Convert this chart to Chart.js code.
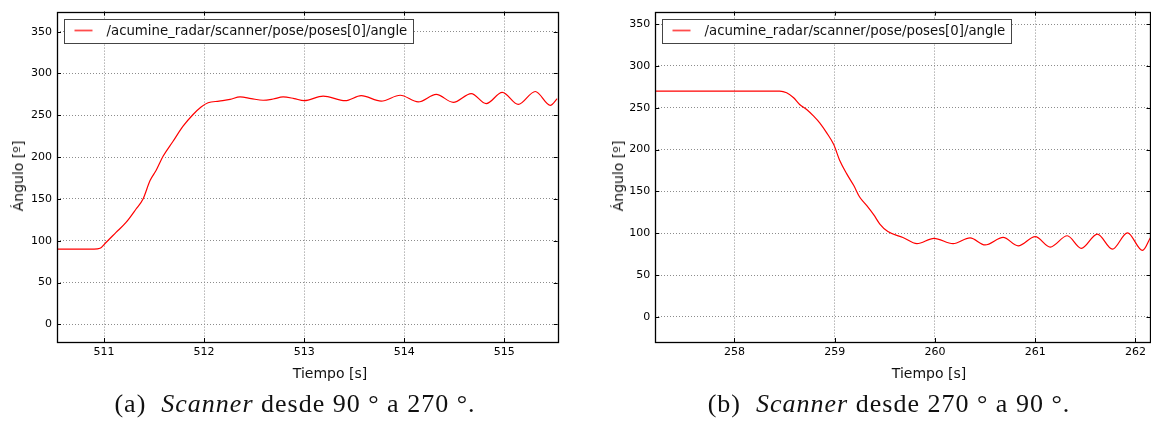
<!DOCTYPE html>
<html>
<head>
<meta charset="utf-8">
<script src="https://cdn.jsdelivr.net/npm/chart.js@4/dist/chart.umd.min.js"></script>
<style>
  html, body { margin: 0; padding: 0; background: #fff; }
  body { width: 1151px; height: 425px; position: relative; overflow: hidden; }
  canvas { position: absolute; top: 0; }
  #cA { left: 0; }
  #cB { left: 590px; }
  .lbl { position: absolute; font-family: "DejaVu Sans", sans-serif; font-size: 14px; color: #111; white-space: nowrap; transform: translate(-50%, -50%); }
  .rot { transform: translate(-50%, -50%) rotate(-90deg); }
  .cap { position: absolute; font-family: "Liberation Serif", serif; font-size: 26px; letter-spacing: 1px; color: #111; white-space: nowrap; transform: translate(-50%, -50%); }
  .cap i { font-style: italic; }
</style>
</head>
<body>
<canvas id="cA" width="575" height="425"></canvas>
<canvas id="cB" width="561" height="425"></canvas>

<div class="lbl rot" style="left:18px; top:176px;">Ángulo [º]</div>
<div class="lbl rot" style="left:618px; top:176px;">Ángulo [º]</div>
<div class="lbl" style="left:330px; top:373px;">Tiempo [s]</div>
<div class="lbl" style="left:929px; top:373px;">Tiempo [s]</div>
<div class="cap" style="left:295px; top:404px;">(a)&nbsp; <i>Scanner</i> desde 90 ° a 270 °.</div>
<div class="cap" style="left:889px; top:404px;">(b)&nbsp; <i>Scanner</i> desde 270 ° a 90 °.</div>

<script>
// Topic recorded for both runs
const topicName = '/acumine_radar/scanner/pose/poses[0]/angle';

// Run (a): scanner turning from 90° to 270°
const timeA = [510.53, 510.90, 510.96, 511.02, 511.12, 511.22, 511.32, 511.39, 511.46, 511.52,
               511.59, 511.69, 511.79, 511.89, 511.97, 512.04, 512.15, 512.26, 512.36, 512.47,
               512.59, 512.69, 512.79, 512.90, 513.00, 513.19, 513.41, 513.57, 513.77, 513.96,
               514.14, 514.32, 514.49, 514.67, 514.82, 514.98, 515.14, 515.31, 515.46, 515.53];
const angleA = [90, 90, 91, 98, 110, 122, 138, 150, 172, 184,
                201, 219, 237, 251, 260, 265, 267, 269, 272, 270,
                268, 269.5, 272, 270, 267.5, 273, 267.5, 273.5, 267, 274,
                266, 275, 265.5, 276, 264, 277.5, 263, 278.5, 262, 270];

// Run (b): scanner turning from 270° to 90°
const timeB = [257.21, 258.45, 258.52, 258.59, 258.65, 258.72, 258.79, 258.85, 258.92, 258.99,
               259.05, 259.12, 259.19, 259.25, 259.32, 259.39, 259.45, 259.53, 259.68, 259.82,
               259.99, 260.18, 260.35, 260.50, 260.68, 260.83, 261.00, 261.15, 261.32, 261.46,
               261.62, 261.77, 261.92, 262.07, 262.15];
const angleB = [270, 270, 268, 262, 254, 248, 240, 232, 220, 206,
                187, 171, 157, 143, 133, 122, 111, 102, 95, 87.5,
                94, 87.5, 94.5, 86, 95, 85, 96, 83.5, 97, 82,
                99, 81, 100.5, 79.5, 95];

// Tick steps
const timeStep = 1;
const angleStep = 50;

const FONT = '"DejaVu Sans", sans-serif';

// Frame, inward tick marks and an in-plot legend box
const framePlugin = {
  id: 'frame',
  afterDraw(chart) {
    const { ctx, chartArea: a, scales } = chart;
    ctx.save();
    ctx.strokeStyle = '#000';
    ctx.lineWidth = 1;
    ctx.beginPath();
    scales.x.ticks.forEach(t => {
      const px = Math.round(scales.x.getPixelForValue(t.value)) + 0.5;
      ctx.moveTo(px, a.bottom); ctx.lineTo(px, a.bottom - 4);
      ctx.moveTo(px, a.top); ctx.lineTo(px, a.top + 4);
    });
    scales.y.ticks.forEach(t => {
      const py = Math.round(scales.y.getPixelForValue(t.value)) + 0.5;
      ctx.moveTo(a.left, py); ctx.lineTo(a.left + 4, py);
      ctx.moveTo(a.right, py); ctx.lineTo(a.right - 4, py);
    });
    ctx.stroke();
    ctx.lineWidth = 1.3;
    ctx.strokeRect(Math.round(a.left) + 0.5, Math.round(a.top) + 0.5,
                   Math.round(a.right - a.left), Math.round(a.bottom - a.top));

    // legend
    const ds = chart.data.datasets[0];
    ctx.font = '13.3px ' + FONT;
    const tw = ctx.measureText(ds.label).width;
    const bx = Math.round(a.left + 7) + 0.5, by = Math.round(a.top + 7) + 0.5;
    const bw = Math.round(43 + tw + 5), bh = 24;
    ctx.fillStyle = '#fff';
    ctx.fillRect(bx, by, bw, bh);
    ctx.strokeStyle = '#444';
    ctx.lineWidth = 1;
    ctx.strokeRect(bx, by, bw, bh);
    ctx.strokeStyle = 'rgba(255,0,0,0.7)';
    ctx.lineWidth = 1.8;
    ctx.beginPath();
    ctx.moveTo(bx + 10, by + 11); ctx.lineTo(bx + 28, by + 11);
    ctx.stroke();
    ctx.fillStyle = '#111';
    ctx.textBaseline = 'middle';
    ctx.fillText(ds.label, bx + 42, by + bh / 2);
    ctx.restore();
  }
};

function makeChart(id, times, angles, xr, yr, axisW, padRight) {
  const pts = times.map((t, i) => ({ x: t, y: angles[i] }));
  const grid = { color: '#8c8c8c', lineWidth: 1, drawTicks: false };
  const border = { display: false, dash: [1, 2] };
  return new Chart(document.getElementById(id), {
    type: 'line',
    data: {
      datasets: [{
        label: topicName,
        data: pts,
        borderColor: '#ff0000',
        borderWidth: 1.2,
        pointRadius: 0,
        cubicInterpolationMode: 'monotone',
        fill: false
      }]
    },
    options: {
      responsive: false,
      animation: false,
      events: [],
      layout: { padding: { left: 0, top: 10, right: padRight, bottom: 63 } },
      plugins: { legend: { display: false }, tooltip: { enabled: false } },
      scales: {
        x: {
          type: 'linear',
          min: xr[0], max: xr[1],
          border: border,
          grid: grid,
          ticks: { stepSize: timeStep, includeBounds: false, padding: 4, color: '#000',
                   font: { family: FONT, size: 11 }, maxRotation: 0,
                   callback: v => String(v) },
          afterFit(s) { s.height = 20; }
        },
        y: {
          type: 'linear',
          min: yr[0], max: yr[1],
          border: border,
          grid: grid,
          ticks: { stepSize: angleStep, includeBounds: false, padding: 5, color: '#000',
                   font: { family: FONT, size: 11 } },
          afterFit(s) { s.width = axisW; }
        }
      }
    },
    plugins: [framePlugin]
  });
}

makeChart('cA', timeA, angleA, [510.53, 515.534], [-21, 374], 57, 17.3);
makeChart('cB', timeB, angleB, [257.21, 262.15], [-30, 365], 65.3, 0.5);
</script>
</body>
</html>
